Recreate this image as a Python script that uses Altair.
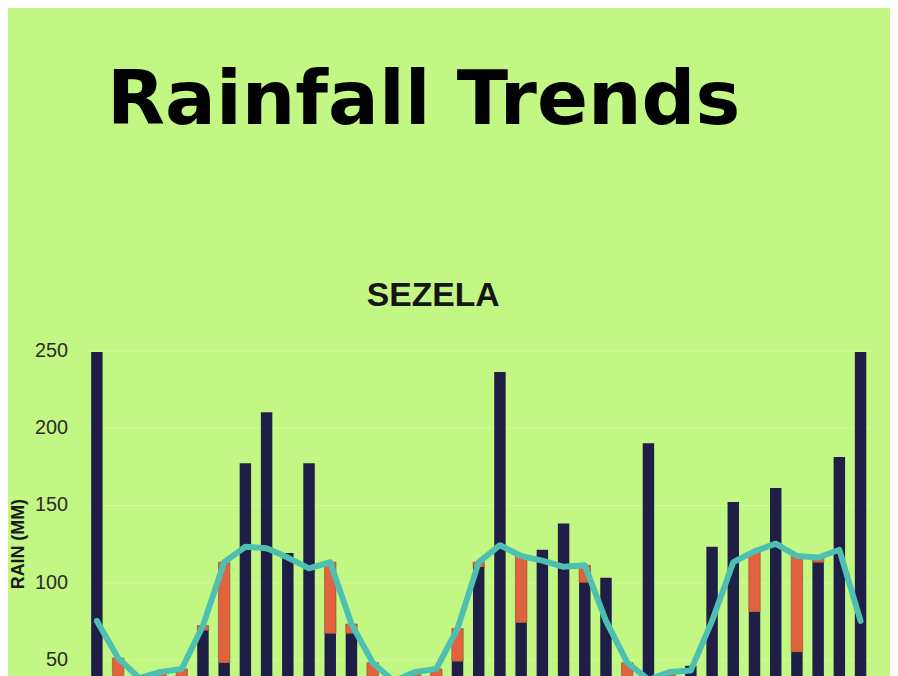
import altair as alt
import pandas as pd

months = [
    "Apr-20", "May-20", "Jun-20", "Jul-20", "Aug-20", "Sep-20", "Oct-20", "Nov-20", "Dec-20",
    "Jan-21", "Feb-21", "Mar-21", "Apr-21", "May-21", "Jun-21", "Jul-21", "Aug-21", "Sep-21",
    "Oct-21", "Nov-21", "Dec-21", "Jan-22", "Feb-22", "Mar-22", "Apr-22", "May-22", "Jun-22",
    "Jul-22", "Aug-22", "Sep-22", "Oct-22", "Nov-22", "Dec-22", "Jan-23", "Feb-23", "Mar-23",
    "Apr-23",
]
actual_rain = [249, 30, 20, 25, 35, 69, 48, 177, 210, 119, 177, 67, 67, 30, 15, 20, 25, 49,
               110, 236, 74, 121, 138, 100, 103, 25, 190, 20, 46, 123, 152, 81, 161, 55, 113,
               181, 249]
long_term_mean = [75, 51, 38, 42, 44, 72, 113, 123, 122, 116, 109, 113, 73, 48, 36, 42, 44, 70,
                  113, 124, 117, 114, 110, 111, 75, 48, 37, 42, 43, 75, 113, 120, 125, 117, 116,
                  121, 75]
y_ticks = [0, 50, 100, 150, 200, 250]

df = pd.DataFrame({"month": months, "actual": actual_rain, "mean": long_term_mean})

x_enc = alt.X("month:N", sort=months, axis=None,
              scale=alt.Scale(paddingInner=0.46, paddingOuter=0.23))
y_scale = alt.Scale(domain=[0, 250], nice=False, zero=True)

bars = alt.Chart(df).mark_bar(color="#1F1E47").encode(
    x=x_enc,
    y=alt.Y("actual:Q", scale=y_scale,
            axis=alt.Axis(values=y_ticks, title="RAIN (MM)", grid=True, gridColor="#D0FA9C",
                          gridWidth=1, domain=False, ticks=False, labelPadding=19,
                          labelFontSize=20, labelFont="Liberation Sans", labelColor="#2B2B2B",
                          titleFont="Liberation Sans", titleFontSize=18, titleFontWeight="bold",
                          titleColor="#1A1A1A", titleX=-68, titleY=195, titleAngle=270,
                          titleAlign="center", titleBaseline="middle")),
)

deficit = alt.Chart(df).transform_filter("datum.mean > datum.actual").mark_bar(
    color="#E0623E", stroke="#8A4A2A", strokeWidth=0.6
).encode(x=x_enc, y=alt.Y("actual:Q", scale=y_scale), y2="mean:Q")

line = alt.Chart(df).mark_line(
    color="#4EC0B1", strokeWidth=6, strokeJoin="round", strokeCap="round"
).encode(x=x_enc, y=alt.Y("mean:Q", scale=y_scale))

station = alt.Chart(pd.DataFrame({"t": ["SEZELA"]})).mark_text(
    font="Liberation Sans", fontSize=34, fontWeight="bold", color="#151515",
    align="center", baseline="middle"
).encode(text="t:N", x=alt.value(350), y=alt.value(-55))

chart = alt.layer(bars, deficit, line, station).properties(
    width=792,
    height=390,
    autosize=alt.AutoSizeParams(type="none"),
    padding={"left": 79, "top": 342, "right": 19, "bottom": 40},
    title=alt.TitleParams("Rainfall Trends", anchor="start", frame="group", dx=21,
                          fontSize=76, font="DejaVu Sans", fontWeight="bold",
                          color="#000000", offset=140),
).configure(background="#C3F784").configure_view(stroke=None)

chart.save("out.html", embed_options={"renderer": "svg", "actions": False})
